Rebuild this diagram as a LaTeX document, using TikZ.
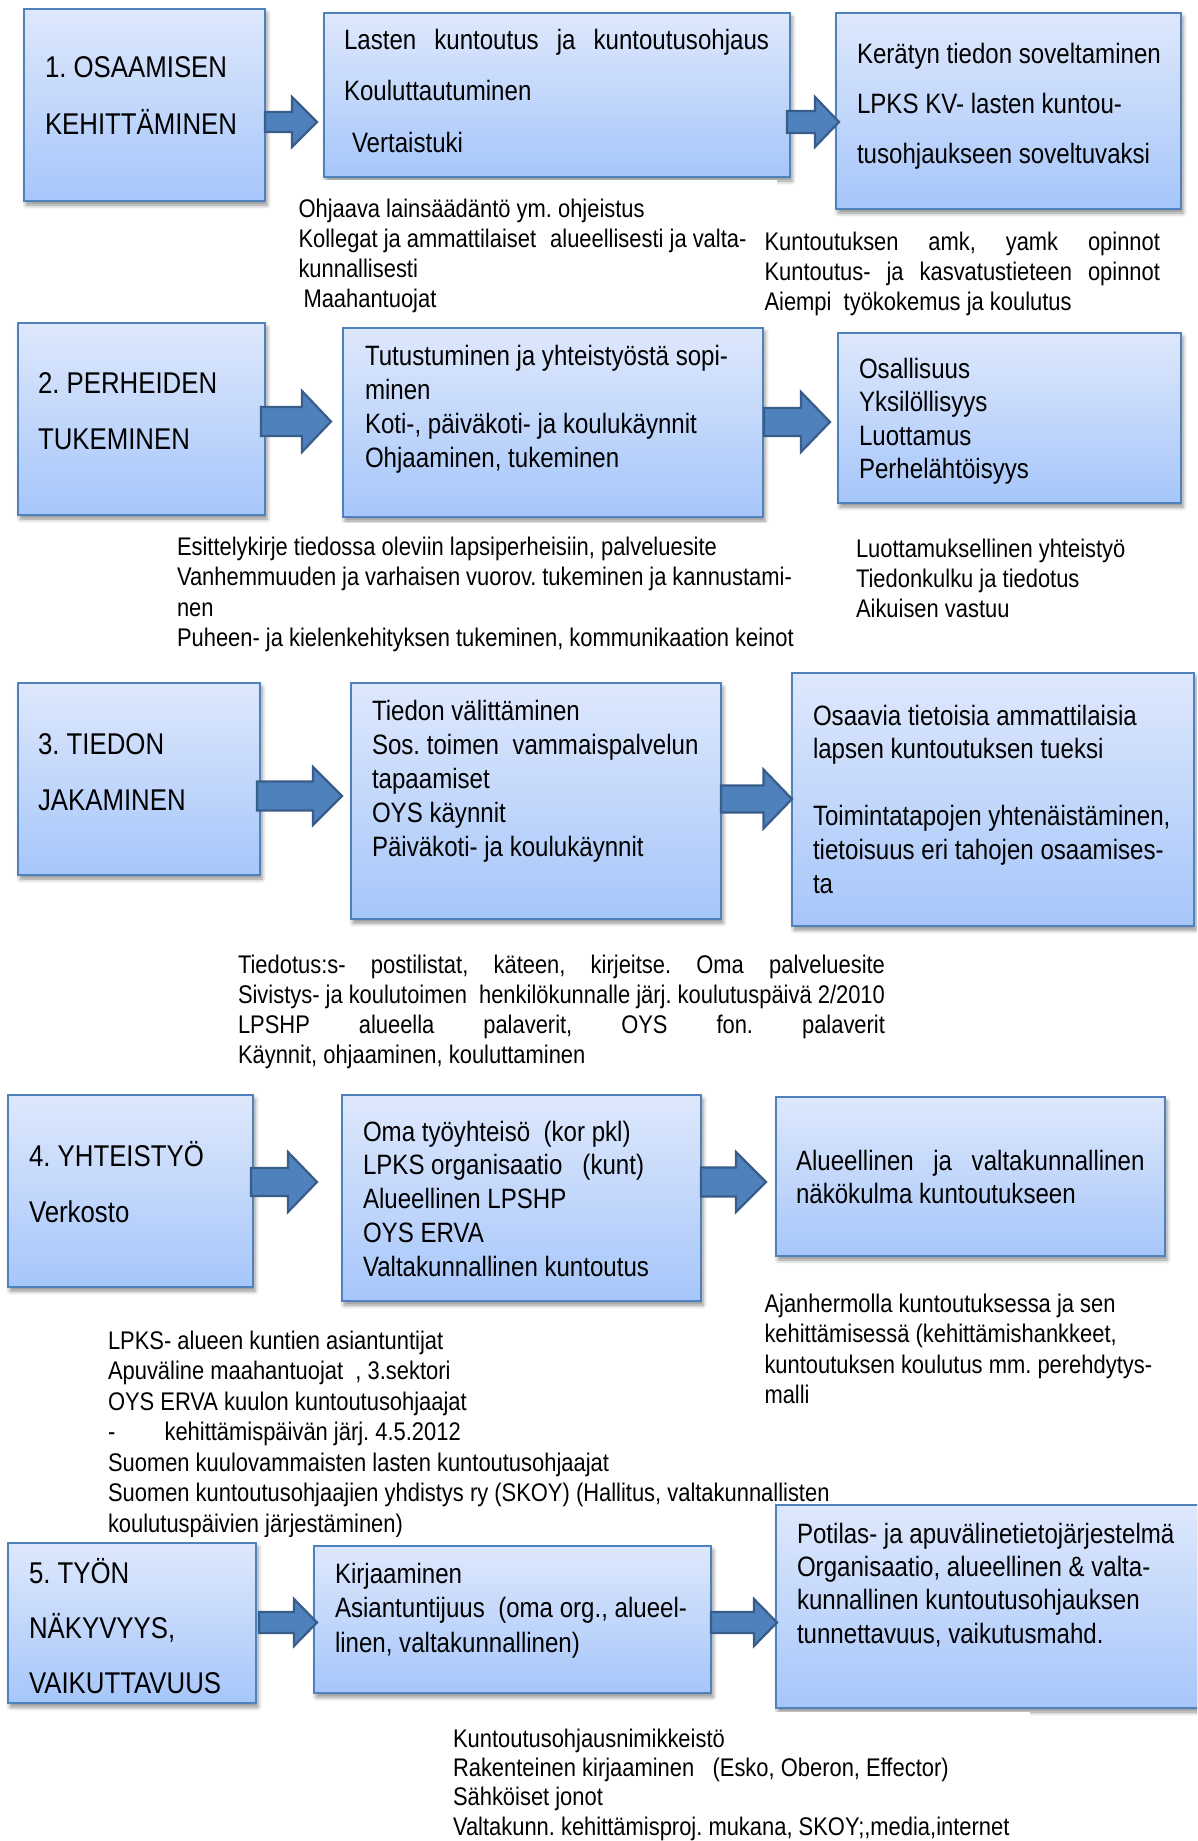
\documentclass[tikz,border=0pt]{standalone}
\usepackage{fontspec}
\setmainfont{Liberation Sans}[FakeStretch=0.86]
\usetikzlibrary{calc,shadows.blur}
\frenchspacing

\definecolor{panelTop}{RGB}{222,232,252}
\definecolor{panelBottom}{RGB}{166,198,250}
\definecolor{panelLine}{RGB}{79,129,189}
\definecolor{arrowFill}{RGB}{79,129,189}
\definecolor{arrowLine}{RGB}{56,93,138}

% multi-line texts are placed by the baseline of their last line
\tikzset{
  panel/.style={rectangle, anchor=north west, inner sep=0pt, outer sep=0pt,
    draw=panelLine, line width=2.2pt, top color=panelTop, bottom color=panelBottom,
    blur shadow={shadow xshift=2pt, shadow yshift=-4pt, shadow blur radius=4pt, shadow opacity=45}},
  headtext/.style={anchor=base west, inner sep=0pt, outer sep=0pt, align=left,
    font=\fontsize{30}{#1}\selectfont},
  boxtext/.style={anchor=base west, inner sep=0pt, outer sep=0pt, align=left,
    font=\fontsize{28}{#1}\selectfont},
  notetext/.style={anchor=base west, inner sep=0pt, outer sep=0pt, align=left,
    font=\fontsize{25.5}{#1}\selectfont},
  flow/.style={fill=arrowFill, draw=arrowLine, line width=2.2pt, line join=miter},
}

% block arrow from the east side of #1 to the west side of #2
% #3 centre y, #4 half shaft, #5 half head, #6 head length, #7 start offset, #8 tip offset
\newcommand{\flowarrow}[8]{%
  \path[flow] let \p1=(#1.east), \p2=(#2.west), \p3=(0,#3) in
    (\x1+#7pt,\y3+#4pt) -- (\x2+#8pt-#6pt,\y3+#4pt) -- (\x2+#8pt-#6pt,\y3+#5pt)
    -- (\x2+#8pt,\y3) -- (\x2+#8pt-#6pt,\y3-#5pt) -- (\x2+#8pt-#6pt,\y3-#4pt)
    -- (\x1+#7pt,\y3-#4pt) -- cycle;}

\begin{document}
\begin{tikzpicture}[x=1pt, y=-1pt]
\useasboundingbox (0,0) rectangle (1197,1841);
\clip (0,0) rectangle (1197,1841);

% ---------- panels ----------
\node[panel, minimum width=241pt, minimum height=192pt] (b1) at (24,9) {};
\node[panel, minimum width=466pt, minimum height=164pt] (b2) at (324,13) {};
\node[panel, minimum width=345pt, minimum height=196pt] (b3) at (836,13) {};

\node[panel, minimum width=247pt, minimum height=192pt] (b4) at (18,323) {};
\node[panel, minimum width=420pt, minimum height=189pt] (b5) at (343,328) {};
\node[panel, minimum width=343pt, minimum height=170pt] (b6) at (838,333) {};

\node[panel, minimum width=242pt, minimum height=192pt] (b7) at (18,683) {};
\node[panel, minimum width=370pt, minimum height=236pt] (b8) at (351,683) {};
\node[panel, minimum width=402pt, minimum height=253pt] (b9) at (792,673) {};

\node[panel, minimum width=245pt, minimum height=192pt] (b10) at (8,1095) {};
\node[panel, minimum width=359pt, minimum height=206pt] (b11) at (342,1095) {};
\node[panel, minimum width=389pt, minimum height=159pt] (b12) at (776,1097) {};

\node[panel, minimum width=248pt, minimum height=160pt] (b13) at (8,1543) {};
\node[panel, minimum width=397pt, minimum height=147pt] (b14) at (314,1546) {};
\node[panel, minimum width=429pt, minimum height=203pt] (b15) at (776,1505) {};

% white backgrounds of the note blocks
\fill[white] (280,180) rectangle (777,318);
\fill[white] (156,523) rectangle (800,660);
\fill[white] (440,1712) rectangle (1030,1841);

% ---------- arrows ----------
\flowarrow{b1}{b2}{122}{10}{25}{25}{0}{-7}
\flowarrow{b2}{b3}{122}{11}{25}{24}{-3}{3}
\flowarrow{b4}{b5}{421.5}{14.5}{30.5}{29}{-4}{-12}
\flowarrow{b5}{b6}{422}{14}{30}{29}{1}{-8}
\flowarrow{b7}{b8}{796}{14.5}{29}{29}{-3}{-9}
\flowarrow{b8}{b9}{799}{13.5}{29.5}{28.5}{0}{0}
\flowarrow{b10}{b11}{1182}{14}{30}{29}{-2}{-25}
\flowarrow{b11}{b12}{1182}{14.5}{30}{30}{0}{-10}
\flowarrow{b13}{b14}{1622.5}{10.5}{23.5}{23}{3}{3}
\flowarrow{b14}{b15}{1622.5}{10.5}{23.5}{23}{0}{1}

% ---------- row 1 ----------
\node[headtext=57] (t1) at (45,135) {1. OSAAMISEN\\KEHITTÄMINEN};
\node[boxtext=51] (t2) at (344,152)
  {\makebox[425pt][s]{Lasten kuntoutus ja kuntoutusohjaus}\\Kouluttautuminen\\\hspace*{8pt}Vertaistuki};
\node[boxtext=50] (t3) at (857,163)
  {Kerätyn tiedon soveltaminen\\LPKS KV- lasten kuntou-\\tusohjaukseen soveltuvaksi};
\begin{scope}
  \clip (280,180) rectangle (745,318);
  \node[notetext=30] (n1) at (298.5,307)
    {Ohjaava lainsäädäntö ym. ohjeistus\\
     \makebox[448pt][l]{Kollegat ja ammattilaiset\hfill alueellisesti ja valta-}\\
     kunnallisesti\\\hspace*{5pt}Maahantuojat};
\end{scope}
\node[notetext=30] (n2) at (764.5,310)
  {\makebox[395.5pt][s]{Kuntoutuksen amk, yamk opinnot}\\
   \makebox[395.5pt][s]{Kuntoutus- ja kasvatustieteen opinnot}\\
   Aiempi~ työkokemus ja koulutus};

% ---------- row 2 ----------
\node[headtext=56] (t4) at (38,449) {2. PERHEIDEN\\TUKEMINEN};
\node[boxtext=34] (t5) at (365,467)
  {\makebox[363pt][s]{Tutustuminen ja yhteistyöstä sopi-}\\minen\\Koti-, päiväkoti- ja koulukäynnit\\Ohjaaminen, tukeminen};
\node[boxtext=33.5] (t6) at (859,478.5)
  {Osallisuus\\Yksilöllisyys\\Luottamus\\Perhelähtöisyys};
\node[notetext=30.5] (n3) at (177,646.5)
  {Esittelykirje tiedossa oleviin lapsiperheisiin, palveluesite\\
   \makebox[615pt][s]{Vanhemmuuden ja varhaisen vuorov. tukeminen ja kannustami-}\\
   nen\\
   Puheen- ja kielenkehityksen tukeminen, kommunikaation keinot};
\node[notetext=30] (n4) at (856,617)
  {Luottamuksellinen yhteistyö\\Tiedonkulku ja tiedotus\\Aikuisen vastuu};

% ---------- row 3 ----------
\node[headtext=56] (t7) at (38,810) {3. TIEDON\\JAKAMINEN};
\node[boxtext=34] (t8) at (372,856)
  {Tiedon välittäminen\\Sos. toimen~ vammaispalvelun\\tapaamiset\\OYS käynnit\\Päiväkoti- ja koulukäynnit};
\node[boxtext=33.6] (t9) at (813,893)
  {Osaavia tietoisia ammattilaisia\\lapsen kuntoutuksen tueksi\\[33.6pt]Toimintatapojen yhtenäistäminen,\\tietoisuus eri tahojen osaamises-\\ta};
\node[notetext=30] (n5) at (238,1063)
  {\makebox[647pt][s]{Tiedotus:s- postilistat, käteen, kirjeitse. Oma palveluesite}\\
   \makebox[647pt][s]{Sivistys- ja koulutoimen~ henkilökunnalle järj. koulutuspäivä 2/2010}\\
   \makebox[647pt][s]{LPSHP alueella palaverit, OYS fon. palaverit}\\
   Käynnit, ohjaaminen, kouluttaminen};

% ---------- row 4 ----------
\node[headtext=56] (t10) at (29,1222) {4. YHTEISTYÖ\\Verkosto};
\node[boxtext=33.75] (t11) at (363,1276)
  {Oma työyhteisö~ (kor pkl)\\LPKS organisaatio~~ (kunt)\\Alueellinen LPSHP\\OYS ERVA\\Valtakunnallinen kuntoutus};
\node[boxtext=33] (t12) at (796,1203)
  {\makebox[348.5pt][s]{Alueellinen ja valtakunnallinen}\\näkökulma kuntoutukseen};
\node[notetext=30.5] (n6) at (764.5,1403.5)
  {Ajanhermolla kuntoutuksessa ja sen\\kehittämisessä (kehittämishankkeet,\\kuntoutuksen koulutus mm. perehdytys-\\malli};
\begin{scope}
  \clip (90,1320) rectangle (900,1536);
  \node[notetext=30.5] (n7) at (108,1532)
    {LPKS- alueen kuntien asiantuntijat\\
     Apuväline maahantuojat~ , 3.sektori\\
     OYS ERVA kuulon kuntoutusohjaajat\\
     \makebox[56.6pt][l]{-}kehittämispäivän järj. 4.5.2012\\
     Suomen kuulovammaisten lasten kuntoutusohjaajat\\
     Suomen kuntoutusohjaajien yhdistys ry (SKOY) (Hallitus, valtakunnallisten\\
     koulutuspäivien järjestäminen)};
\end{scope}

% ---------- row 5 ----------
\node[headtext=55] (t13) at (29,1693) {5. TYÖN\\NÄKYVYYS,\\VAIKUTTAVUUS};
\node[boxtext=34.5] (t14) at (335,1652)
  {Kirjaaminen\\Asiantuntijuus~ (oma org., alueel-\\linen, valtakunnallinen)};
\node[boxtext=33.3] (t15) at (797,1643)
  {Potilas- ja apuvälinetietojärjestelmä\\Organisaatio, alueellinen \& valta-\\kunnallinen kuntoutusohjauksen\\tunnettavuus, vaikutusmahd.};
\node[notetext=29.3] (n8) at (453,1835)
  {Kuntoutusohjausnimikkeistö\\Rakenteinen kirjaaminen~~ (Esko, Oberon, Effector)\\Sähköiset jonot\\Valtakunn. kehittämisproj. mukana, SKOY;,media,internet};
\end{tikzpicture}
\end{document}
